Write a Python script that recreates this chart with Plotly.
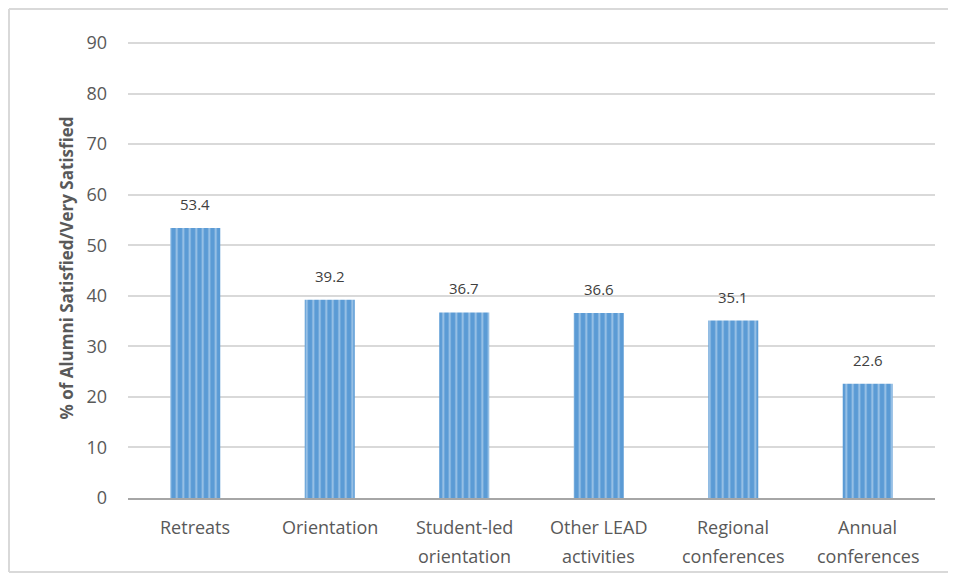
import plotly.graph_objects as go

categories = ["Retreats", "Orientation", "Student-led<br>orientation", "Other LEAD<br>activities",
              "Regional<br>conferences", "Annual<br>conferences"]
values = [53.4, 39.2, 36.7, 36.6, 35.1, 22.6]
y_ticks = [0, 10, 20, 30, 40, 50, 60, 70, 80, 90]

# page has an 8px body margin, so the figure is 948x565 (no scrollbars)
W, H = 948, 565
L, R, T, B = 120, 21, 30, 75
pw, ph = W - L - R, H - T - B
FONT = "Open Sans, Lato, sans-serif"
TXT = "#595959"

def px_x(px):
    return (px - L) / pw

def px_y(py):
    return (H - B - py) / ph

fig = go.Figure()
fig.add_trace(go.Bar(
    x=list(range(len(categories))), y=values,
    width=0.372,
    marker=dict(
        color="#5B9BD5",
        line=dict(width=0),
        pattern=dict(shape="|", bgcolor="#5B9BD5", fgcolor="#E6F0FA", size=6.5, solidity=0.28),
    ),
    hoverinfo="skip",
))

annotations = []
# data labels
for i, v in enumerate(values):
    annotations.append(dict(
        x=i, y=v, xref="x", yref="y", text=f"{v:.1f}", showarrow=False,
        yshift=24, font=dict(family=FONT, size=15, color="#404040"),
    ))
# category labels (two-line, wider line spacing)
for i, c in enumerate(categories):
    for j, line in enumerate(c.split("<br>")):
        annotations.append(dict(
            x=i, y=0, xref="x", yref="y", text=line, showarrow=False,
            yshift=-29 - 29 * j, font=dict(family=FONT, size=18, color=TXT),
        ))

border = dict(color="#D9D9D9", width=2)
fig.update_layout(
    width=W, height=H,
    margin=dict(l=L, r=R, t=T, b=B, autoexpand=False),
    paper_bgcolor="white", plot_bgcolor="white",
    showlegend=False,
    font=dict(family=FONT, color=TXT),
    xaxis=dict(
        range=[-0.5, len(categories) - 0.5],
        showline=True, linecolor="#A6A6A6", linewidth=2,
        showticklabels=False, ticks="", showgrid=False, zeroline=False,
        automargin=False,
    ),
    yaxis=dict(
        range=[0, 91],
        tickvals=y_ticks,
        tickfont=dict(size=18, color=TXT, family=FONT),
        showgrid=True, gridcolor="#D9D9D9", gridwidth=1.5,
        zeroline=False, showline=False,
        ticks="", ticklabelstandoff=20, automargin=False,
        title=dict(text="<b>% of Alumni Satisfied/Very Satisfied</b>",
                   font=dict(size=17, color=TXT, family=FONT), standoff=8),
    ),
    annotations=annotations,
    shapes=[
        dict(type="line", xref="paper", yref="paper", x0=px_x(1), x1=px_x(W), y0=px_y(1), y1=px_y(1), line=border),
        dict(type="line", xref="paper", yref="paper", x0=px_x(1), x1=px_x(1), y0=px_y(1), y1=px_y(H - 1), line=border),
        dict(type="line", xref="paper", yref="paper", x0=px_x(1), x1=px_x(W), y0=px_y(H - 1), y1=px_y(H - 1), line=border),
    ],
)

fig.write_html("out.html")
